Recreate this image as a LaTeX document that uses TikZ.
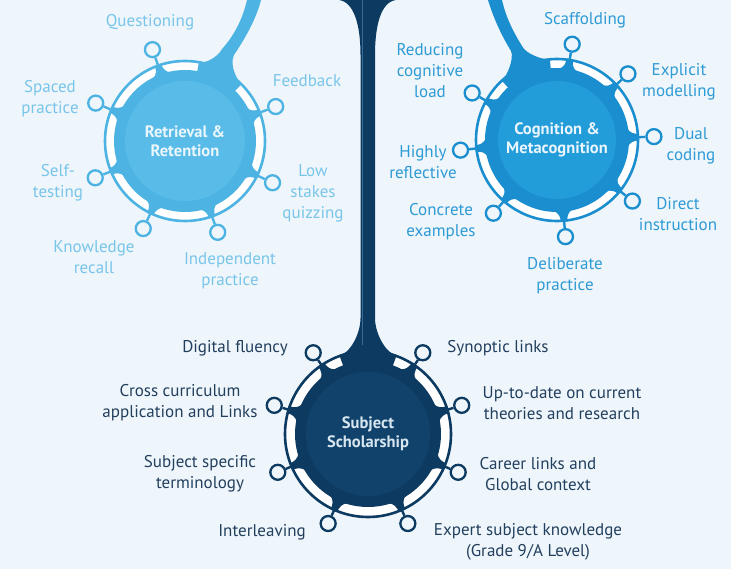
\documentclass[tikz,border=0pt]{standalone}
\usepackage{fontspec}
\setmainfont{PT Sans}
\usetikzlibrary{calc}

\definecolor{bg}{HTML}{EEF6FB}
\definecolor{retA}{HTML}{4DB3E3}
\definecolor{retB}{HTML}{59BCE8}
\definecolor{retT}{HTML}{79C5EA}
\definecolor{retW}{HTML}{EAF6FC}
\definecolor{cogA}{HTML}{1A8ECE}
\definecolor{cogB}{HTML}{239CDA}
\definecolor{cogT}{HTML}{2E9AD6}
\definecolor{cogW}{HTML}{EAF5FC}
\definecolor{schA}{HTML}{0C3A61}
\definecolor{schB}{HTML}{10426C}
\definecolor{schT}{HTML}{223F5E}
\definecolor{schW}{HTML}{D8E6F0}
\definecolor{trunkline}{HTML}{3A6B93}

\newcommand\hubtextfont{\fontsize{16.5}{19.5}\selectfont\bfseries}
\newcommand\labeltextfont{\fontsize{17}{21}\selectfont}

% bump joining a hub disc to its outer ring at a given angle
% #1 colour, #2 centre, #3 angle, #4 disc radius, #5 ring radius
\newcommand\ringjoin[5]{%
  \fill[#1] ($(#2)+({#3-8}:#4-1)$)
    .. controls ($(#2)+({#3-3.5}:#4+1)$) and ($(#2)+({#3-2.4}:#5-4)$) .. ($(#2)+({#3-2.4}:#5+1)$)
    -- ($(#2)+({#3+2.4}:#5+1)$)
    .. controls ($(#2)+({#3+2.4}:#5-4)$) and ($(#2)+({#3+3.5}:#4+1)$) .. ($(#2)+({#3+8}:#4-1)$)
    -- cycle;}

\begin{document}
\begin{tikzpicture}[x=1pt,y=1pt,
  ring/.style={line width=2.6pt, fill=white},
  hub/.style={circle, inner sep=0pt, align=center, font=\hubtextfont},
  dot/.style={circle, line width=2.3pt, fill=bg, minimum size=15pt, inner sep=0pt},
  spoke/.style={line width=2.4pt},
  lbl/.style={align=center, font=\labeltextfont, inner sep=0pt},
]
\fill[bg] (0,0) rectangle (731,-569);
\useasboundingbox (0,0) rectangle (731,-569);

\coordinate (cR) at (185,-141);
\coordinate (cC) at (557,-140);
\coordinate (cS) at (368,-434);

% outer rings
\draw[ring, draw=retA] (cR) circle[radius=80pt];
\draw[ring, draw=cogA] (cC) circle[radius=81pt];
\draw[ring, draw=schA] (cS) circle[radius=83pt];

% central trunk
\fill[schA] (339,0) .. controls (354,-2) and (360.5,-25) .. (360.5,-55)
  -- (360.5,-318) .. controls (360.5,-335) and (348.7,-354.7) .. (339.3,-355.1)
  -- (cS) -- (396.7,-355.1) .. controls (387.3,-354.7) and (375,-335) .. (375,-318)
  -- (375,-55) .. controls (375,-25) and (381,-2) .. (396,0) -- cycle;
\draw[trunkline, line width=0.8pt] (362.5,0) -- (362.5,-345);

% branches
\fill[retA] (247,0) .. controls (242,-22) and (232,-38) .. (222,-49)
  .. controls (218.4,-56.2) and (206.8,-63.6) .. (198.9,-62.2)
  -- (cR) -- (241.6,-84.4) .. controls (235.9,-78.7) and (229.5,-64) .. (234,-55)
  .. controls (244,-40) and (256,-20) .. (261,0) -- cycle;
\fill[cogA] (488,0) .. controls (494,-20) and (503,-38) .. (511,-51)
  .. controls (514.2,-58.3) and (507.6,-75.3) .. (501.8,-80.8)
  -- (cC) -- (549.9,-59.3) .. controls (541.9,-60) and (525.2,-53.3) .. (522,-46)
  .. controls (514,-33) and (506,-18) .. (502,0) -- cycle;

% hubs
\node[hub, fill=retA, minimum size=142pt, text=retW,
  path picture={\fill[retB] (path picture bounding box.center) circle[radius=60pt];}]
  (R) at (cR) {Retrieval \&\\Retention};
\node[hub, fill=cogA, minimum size=144pt, text=cogW,
  path picture={\fill[cogB] (path picture bounding box.center) circle[radius=59pt];}]
  (C) at (cC) {Cognition \&\\Metacognition};
\node[hub, fill=schA, minimum size=146pt, text=schW,
  path picture={\fill[schB] (path picture bounding box.center) circle[radius=62pt];}]
  (S) at (cS) {Subject\\Scholarship};

% spokes and end rings
\foreach \a [count=\i] in {20.8,109.6,157,202.3,244.5,289.7,334.5} {
  \ringjoin{retA}{cR}{\a}{71}{80}
  \node[dot, draw=retA] (R\i) at ($(cR)+(\a:97)$) {};
  \draw[spoke, retA] (R) -- (R\i);
}
\foreach \a [count=\i] in {81,43,2,-39,-85,229,186,151} {
  \ringjoin{cogA}{cC}{\a}{72}{81}
  \node[dot, draw=cogA] (C\i) at ($(cC)+(\a:97)$) {};
  \draw[spoke, cogA] (C) -- (C\i);
}
\foreach \a [count=\i] in {124,163,203,246,56,17,-23,-66} {
  \ringjoin{schA}{cS}{\a}{73}{83}
  \node[dot, draw=schA] (S\i) at ($(cS)+(\a:98)$) {};
  \draw[spoke, schA] (S) -- (S\i);
}

% labels: retrieval
\begin{scope}[every node/.style={lbl, text=retT}]
\node (lR1) at (150,-22) {Questioning};
\node (lR2) at (50,-99) {Spaced\\practice};
\node (lR3) at (58,-183) {Self-\\testing};
\node (lR4) at (94,-257) {Knowledge\\recall};
\node (lR5) at (230,-271) {Independent\\practice};
\node (lR6) at (313,-193) {Low\\stakes\\quizzing};
\node (lR7) at (307,-81) {Feedback};
\end{scope}

% labels: cognition
\begin{scope}[every node/.style={lbl, text=cogT}]
\node (lC1) at (585,-20) {Scaffolding};
\node (lC2) at (430,-71) {Reducing\\cognitive\\load};
\node (lC3) at (679,-82) {Explicit\\modelling};
\node (lC4) at (423,-162) {Highly\\reflective};
\node (lC5) at (691,-146) {Dual\\coding};
\node (lC6) at (441,-222) {Concrete\\examples};
\node (lC7) at (678,-214) {Direct\\instruction};
\node (lC8) at (565,-276) {Deliberate\\practice};
\end{scope}

% labels: scholarship
\begin{scope}[every node/.style={lbl, text=schT}]
\node (lS1) at (235,-348) {Digital fluency};
\node (lS2) at (180,-403) {Cross curriculum\\application and Links};
\node (lS3) at (200,-474) {Subject specific\\terminology};
\node (lS4) at (262,-532) {Interleaving};
\node (lS5) at (498,-348) {Synoptic links};
\node (lS6) at (562,-403) {Up-to-date on current\\theories and research};
\node (lS7) at (538,-474) {Career links and\\Global context};
\node (lS8) at (528,-542) {Expert subject knowledge\\(Grade 9/A Level)};
\end{scope}
\end{tikzpicture}
\end{document}
